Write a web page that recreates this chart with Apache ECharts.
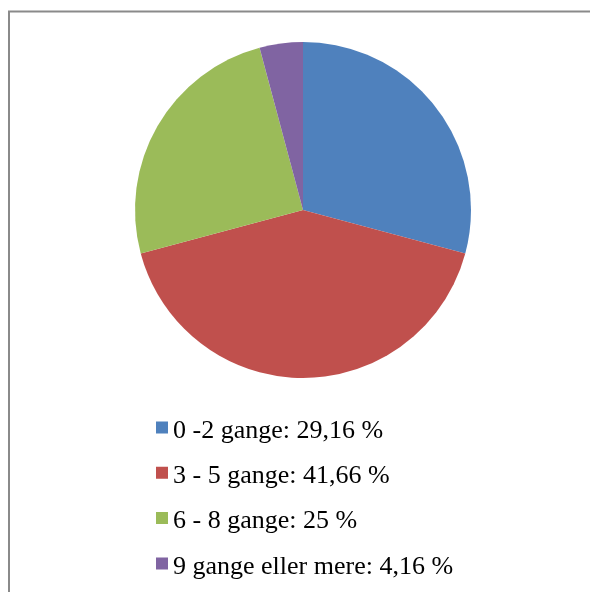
<!DOCTYPE html>
<html>
<head>
<meta charset="utf-8">
<script src="https://cdn.jsdelivr.net/npm/echarts@6/dist/echarts.min.js"></script>
<style>
  html, body { margin: 0; padding: 0; background: #fff; }
  #chart { width: 590px; height: 592px; }
</style>
</head>
<body>
<div id="chart"></div>
<script>
// Survey answers: how many times, share of respondents
const categories = ['0 -2 gange', '3 - 5 gange', '6 - 8 gange', '9 gange eller mere'];
const values = [29.16, 41.66, 25, 4.16];
const valueLabels = ['29,16', '41,66', '25', '4,16'];
const colors = ['#4F81BD', '#C0504D', '#9BBB59', '#8064A2'];

const chart = echarts.init(document.getElementById('chart'), null, { renderer: 'canvas' });

const labelByName = {};
categories.forEach((c, i) => { labelByName[c] = c + ': ' + valueLabels[i] + ' %'; });

// 12px square marker, sitting slightly above the text's middle line
const legendIcon = 'path://M0,0h12v12h-12z M0,19h12';

chart.setOption({
  animation: false,
  color: colors,
  graphic: [{
    type: 'rect',
    shape: { x: 9, y: 11.5, width: 900, height: 900 },
    style: { fill: 'none', stroke: '#8a8a8a', lineWidth: 2 },
    silent: true
  }],
  legend: {
    orient: 'vertical',
    left: 156,
    top: 417,
    height: 300,
    padding: 0,
    icon: legendIcon,
    itemWidth: 12,
    itemHeight: 19,
    itemGap: 17.3,
    textStyle: {
      fontFamily: '"Liberation Serif", "DejaVu Serif", serif',
      fontSize: 26,
      color: '#000',
      lineHeight: 28
    },
    formatter: name => labelByName[name],
    data: categories
  },
  series: [{
    type: 'pie',
    center: [303, 210],
    radius: [0, 168],
    startAngle: 90,
    clockwise: true,
    label: { show: false },
    labelLine: { show: false },
    itemStyle: { borderWidth: 0 },
    emphasis: { disabled: true },
    data: categories.map((c, i) => ({ name: c, value: values[i] }))
  }]
});
</script>
</body>
</html>
